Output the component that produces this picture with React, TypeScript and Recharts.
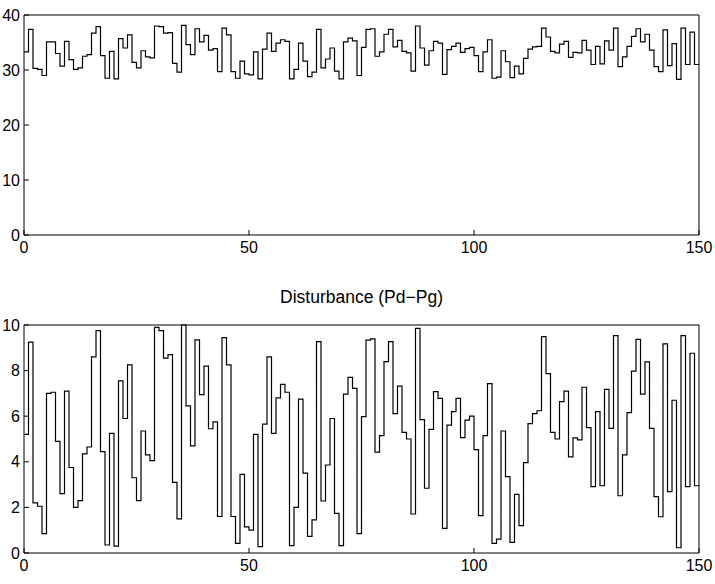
import { LineChart, Line, XAxis, YAxis } from "recharts";

// sampled output, top panel (one value per step, t = 0..149)
const topSeries = [
  33.3, 37.4, 30.3, 30.1, 29.0, 35.1, 35.1, 33.0, 30.7, 35.2,
  31.9, 30.1, 30.4, 32.5, 32.8, 36.7, 37.9, 32.6, 28.5, 33.4,
  28.4, 35.7, 34.0, 36.4, 31.4, 30.4, 33.5, 32.4, 32.2, 38.0,
  37.9, 36.7, 36.8, 31.2, 29.6, 38.1, 34.6, 32.8, 37.5, 35.1,
  36.3, 33.6, 33.9, 29.7, 37.6, 36.4, 29.7, 28.5, 31.6, 29.3,
  29.1, 33.3, 28.4, 33.8, 36.7, 33.4, 34.9, 35.5, 35.2, 28.4,
  30.1, 34.9, 31.6, 28.8, 29.6, 37.4, 30.4, 32.0, 34.0, 29.8,
  28.4, 35.1, 35.8, 35.3, 29.0, 34.1, 37.4, 37.5, 32.5, 33.3,
  36.5, 37.4, 34.2, 35.4, 33.4, 33.1, 29.8, 38.0, 34.0, 30.9,
  33.5, 35.2, 34.9, 29.2, 33.7, 34.3, 34.9, 33.2, 33.9, 34.1,
  32.6, 29.7, 33.3, 35.5, 28.5, 28.7, 33.5, 31.5, 28.6, 30.7,
  29.3, 32.1, 33.8, 34.2, 34.3, 37.6, 36.0, 33.4, 33.1, 34.7,
  35.2, 32.3, 33.2, 33.1, 35.4, 33.6, 31.0, 34.3, 31.1, 35.3,
  33.6, 37.6, 30.6, 32.4, 34.3, 36.1, 37.5, 35.1, 36.5, 33.6,
  30.6, 29.7, 37.3, 30.8, 34.8, 28.3, 37.6, 31.0, 36.9, 31.0,
];

// disturbance Pd-Pg, bottom panel
const disturbance = [
  5.2, 9.25, 2.2, 2.05, 0.85, 7.0, 7.05, 4.9, 2.6, 7.1,
  3.75, 2.0, 2.3, 4.35, 4.65, 8.6, 9.75, 4.45, 0.35, 5.25,
  0.3, 7.55, 5.9, 8.25, 3.3, 2.3, 5.35, 4.3, 4.05, 9.9,
  9.75, 8.55, 8.7, 3.1, 1.5, 10.0, 6.45, 4.7, 9.35, 6.95,
  8.2, 5.45, 5.75, 1.6, 9.45, 8.25, 1.6, 0.42, 3.45, 1.15,
  1.0, 5.2, 0.28, 5.65, 8.6, 5.25, 6.8, 7.4, 7.05, 0.32,
  2.0, 6.75, 3.5, 0.73, 1.45, 9.27, 2.28, 3.86, 5.9, 1.74,
  0.32, 6.97, 7.7, 7.22, 0.85, 5.98, 9.34, 9.39, 4.42, 5.15,
  8.39, 9.27, 6.11, 7.32, 5.29, 5.0, 1.71, 9.85, 5.85, 2.84,
  5.42, 7.08, 6.78, 1.08, 5.61, 6.2, 6.78, 5.06, 5.83, 6.0,
  4.53, 1.64, 5.15, 7.43, 0.42, 0.61, 5.35, 3.35, 0.47, 2.57,
  1.2, 3.96, 5.67, 6.11, 6.24, 9.49, 7.87, 5.29, 5.0, 6.64,
  7.1, 4.22, 5.05, 4.96, 7.27, 5.5, 2.91, 6.2, 2.95, 7.18,
  5.47, 9.53, 2.51, 4.3, 6.16, 7.98, 9.37, 6.97, 8.38, 5.47,
  2.47, 1.59, 9.17, 2.69, 6.7, 0.23, 9.53, 2.91, 8.76, 2.95,
];

const xTicks = [0, 50, 100, 150];
const topYTicks = [0, 10, 20, 30, 40];
const bottomYTicks = [0, 2, 4, 6, 8, 10];
const title = "Disturbance (Pd\u2212Pg)";

// stairs: hold the last value until the end of the range
const toStairs = (values: number[]) => [
  ...values.map((v, i) => ({ t: i, v })),
  { t: values.length, v: values[values.length - 1] },
];

const tickStyle = { fill: "#000", fontSize: 16 };
const axisLine = { stroke: "#000" };

type PanelProps = {
  data: { t: number; v: number }[];
  yMax: number;
  yTicks: number[];
  height: number;
};

function Panel({ data, yMax, yTicks, height }: PanelProps) {
  return (
    <LineChart width={715} height={height} data={data} margin={{ top: 15, right: 16, bottom: 0, left: 0 }}>
      <XAxis
        dataKey="t"
        type="number"
        domain={[0, 150]}
        ticks={xTicks}
        tickSize={-5}
        tickMargin={12}
        tick={tickStyle}
        axisLine={axisLine}
        tickLine={{ stroke: "#000" }}
        height={35}
      />
      {/* mirrored top/right axes close the box and carry inward ticks */}
      <XAxis
        xAxisId="top"
        orientation="top"
        type="number"
        domain={[0, 150]}
        ticks={xTicks}
        mirror
        height={20}
        tick={false}
        tickSize={5}
        axisLine={axisLine}
        tickLine={{ stroke: "#000" }}
      />
      <YAxis
        type="number"
        domain={[0, yMax]}
        ticks={yTicks}
        width={24}
        tickSize={-5}
        tickMargin={9}
        tick={tickStyle}
        axisLine={axisLine}
        tickLine={{ stroke: "#000" }}
      />
      <YAxis
        yAxisId="right"
        orientation="right"
        type="number"
        domain={[0, yMax]}
        ticks={yTicks}
        mirror
        width={20}
        tick={false}
        tickSize={5}
        axisLine={axisLine}
        tickLine={{ stroke: "#000" }}
      />
      <Line
        type="stepAfter"
        dataKey="v"
        stroke="#000"
        strokeWidth={1.2}
        dot={false}
        isAnimationActive={false}
      />
    </LineChart>
  );
}

export default function App() {
  return (
    <div
      style={{
        position: "absolute",
        left: 0,
        top: 0,
        width: 715,
        height: 584,
        background: "#fff",
        fontFamily: "'Liberation Sans', Arial, sans-serif",
      }}
    >
      <div style={{ position: "absolute", left: 0, top: 0 }}>
        <Panel data={toStairs(topSeries)} yMax={40} yTicks={topYTicks} height={270} />
      </div>
      <div
        style={{
          position: "absolute",
          left: 24,
          top: 287,
          width: 675,
          textAlign: "center",
          fontSize: 17.5,
          color: "#000",
        }}
      >
        {title}
      </div>
      <div style={{ position: "absolute", left: 0, top: 310 }}>
        <Panel data={toStairs(disturbance)} yMax={10} yTicks={bottomYTicks} height={278} />
      </div>
    </div>
  );
}
